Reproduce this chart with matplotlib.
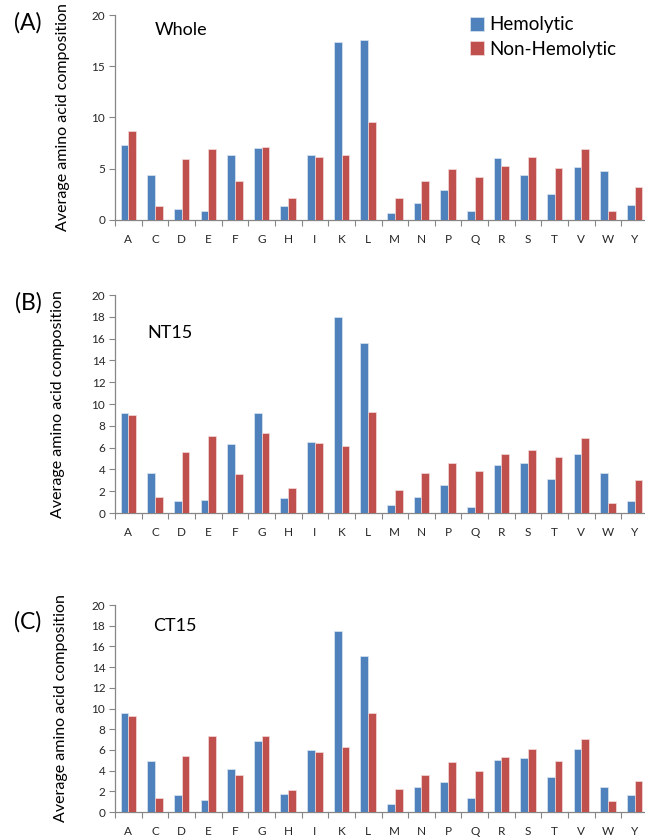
import matplotlib
matplotlib.use('Agg')
import matplotlib.pyplot as plt
import numpy as np

plt.rcParams['font.family'] = ['Lato', 'DejaVu Sans']

# ---------------- data ----------------
amino = ['A', 'C', 'D', 'E', 'F', 'G', 'H', 'I', 'K', 'L',
         'M', 'N', 'P', 'Q', 'R', 'S', 'T', 'V', 'W', 'Y']

whole_hemo = [7.28, 4.39, 1.05, 0.92, 6.39, 7.05, 1.34, 6.39, 17.38, 17.6,
              0.69, 1.67, 2.89, 0.92, 6.07, 4.39, 2.52, 5.18, 4.75, 1.44]
whole_non = [8.69, 1.34, 5.93, 6.95, 3.77, 7.15, 2.13, 6.16, 6.3, 9.57,
             2.13, 3.77, 4.95, 4.2, 5.28, 6.16, 5.08, 6.95, 0.92, 3.21]

nt15_hemo = [9.15, 3.7, 1.06, 1.18, 6.33, 9.15, 1.36, 6.5, 17.94, 15.6,
             0.76, 1.45, 2.6, 0.55, 4.39, 4.6, 3.09, 5.42, 3.7, 1.06]
nt15_non = [9.03, 1.45, 5.6, 7.03, 3.6, 7.33, 2.27, 6.42, 6.12, 9.27,
            2.15, 3.67, 4.6, 3.88, 5.42, 5.82, 5.12, 6.85, 0.88, 3.06]

ct15_hemo = [9.61, 4.89, 1.64, 1.16, 4.12, 6.82, 1.77, 5.98, 17.5, 15.06,
             0.8, 2.44, 2.86, 1.35, 4.98, 5.21, 3.38, 6.08, 2.41, 1.67]
ct15_non = [9.29, 1.35, 5.43, 7.36, 3.6, 7.36, 2.12, 5.76, 6.27, 9.61,
            2.22, 3.6, 4.79, 3.92, 5.31, 6.08, 4.89, 7.04, 1.03, 2.96]

panels = [
    ('(A)', 'Whole', whole_hemo, whole_non, np.arange(0, 21, 5)),
    ('(B)', 'NT15', nt15_hemo, nt15_non, np.arange(0, 21, 2)),
    ('(C)', 'CT15', ct15_hemo, ct15_non, np.arange(0, 21, 2)),
]

BLUE = '#4F81BD'
RED = '#C0504D'
AXC = '#868686'

W, H = 645, 838
fig = plt.figure(figsize=(W / 100, H / 100), dpi=100)

# axes boxes in pixels: (y of zero line, y of top)
boxes = [(220, 15), (513, 295), (812, 605)]
left_px, right_px = 115, 648
letter_y = [23, 303, 622]
title_pos = [(155, 30), (147, 333), (153, 626)]
label_x = [70, 65, 68]

x = np.arange(len(amino))
bw = 0.29

for i, (letter, title, hemo, non, yt) in enumerate(panels):
    y0, y1 = boxes[i]
    ax = fig.add_axes([left_px / W, 1 - y0 / H, (right_px - left_px) / W, (y0 - y1) / H])
    b1 = ax.bar(x - bw / 2, hemo, width=bw, color=BLUE, edgecolor='#DCE6F2',
                linewidth=0.5, label='Hemolytic', zorder=3)
    b2 = ax.bar(x + bw / 2, non, width=bw, color=RED, edgecolor='#F2DCDB',
                linewidth=0.5, label='Non-Hemolytic', zorder=3)

    ax.set_xlim(-0.5, len(amino) - 0.5)
    ax.set_ylim(0, 20)
    ax.set_yticks(yt)
    ax.set_xticks(x)
    ax.set_xticklabels(amino)
    ax.set_xticks(np.arange(-0.5, len(amino), 1), minor=True)
    ax.tick_params(axis='x', which='major', length=0, pad=10, labelsize=8.5,
                   colors='#262626')
    ax.tick_params(axis='x', which='minor', length=4, color=AXC, width=0.8,
                   direction='out')
    ax.tick_params(axis='y', length=4, color=AXC, width=0.8, labelsize=8.5,
                   labelcolor='#262626', pad=3)

    for s in ['top', 'right']:
        ax.spines[s].set_visible(False)
    for s in ['left', 'bottom']:
        ax.spines[s].set_color(AXC)
        ax.spines[s].set_linewidth(0.9)

    ax.set_ylabel('Average amino acid composition', fontsize=11.5, color='black')
    ax.yaxis.set_label_coords((label_x[i] - left_px) / (right_px - left_px), 0.5)

    fig.text(28 / W, 1 - letter_y[i] / H, letter, fontsize=16.5, ha='center',
             va='center')
    tx, ty = title_pos[i]
    fig.text(tx / W, 1 - ty / H, title, fontsize=13, ha='left', va='center')

    if i == 0:
        ax.legend(handles=[b1, b2], loc='upper left',
                  bbox_to_anchor=((462 - left_px) / (right_px - left_px), 1.03),
                  frameon=False, fontsize=13.5, handlelength=0.75,
                  handleheight=0.75, handletextpad=0.3, labelspacing=0.4,
                  borderaxespad=0)

fig.savefig('out.png', dpi=100)
